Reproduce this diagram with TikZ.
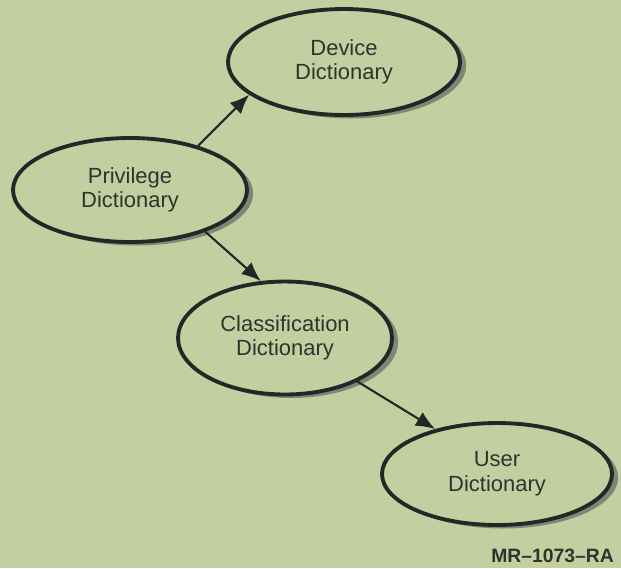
\documentclass[tikz,border=0pt]{standalone}
\usepackage{fontspec}
\setmainfont{Liberation Sans}
\usetikzlibrary{arrows.meta,shapes.geometric,shadows}
\definecolor{paper}{RGB}{194,208,161}
\definecolor{ink}{RGB}{50,50,45}
\tikzset{
  dict/.style={ellipse, draw=black!85, line width=2.2pt, fill=paper, inner sep=0pt,
    align=center, text=ink, font=\fontsize{12.5}{14}\selectfont,
    drop shadow={shadow xshift=3.5pt, shadow yshift=-2pt, fill=black!60, opacity=0.7}},
  link/.style={line width=1.2pt, draw=black!85, -{Latex[length=11pt,width=9pt]}}
}

\begin{document}
\begin{tikzpicture}[x=0.02cm, y=-0.02cm]
		%%%%% START %%%%%
		\fill[paper] (0,0) rectangle (621,568);
		\useasboundingbox (0,0) rectangle (621,568);
		
		\node[dict, minimum width=4.64cm, minimum height=2.12cm] (device) at (344,62) {Device\\Dictionary};
		\node[dict, minimum width=4.68cm, minimum height=2.08cm] (priv) at (130,190) {Privilege\\Dictionary};
		\node[dict, minimum width=4.28cm, minimum height=2.26cm] (class) at (285,338) {Classification\\Dictionary};
		\node[dict, minimum width=4.60cm, minimum height=2.04cm] (user) at (497,474) {User\\Dictionary};
		
		\draw[link] (priv.33) -- (device.199);
		\draw[link] (priv.331) -- (class.113);
		\draw[link] (class.329) -- (user.144);
		
		\node[anchor=base east, text=ink, font=\bfseries\fontsize{11}{13}\selectfont] (tag) at (620,562) {MR--1073--RA};
		%%%%% END %%%%%
\end{tikzpicture}
\end{document}
